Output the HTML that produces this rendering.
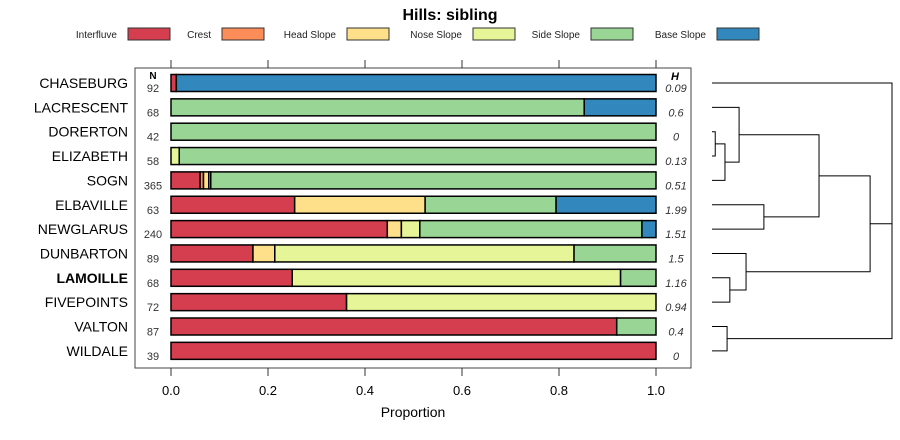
<!DOCTYPE html>
<html><head><meta charset="utf-8"><style>
html,body{margin:0;padding:0;background:#fff;}
svg{display:block;font-family:"Liberation Sans",sans-serif;}
</style></head><body>
<svg id="chart" width="900" height="440" viewBox="0 0 900 440">
<text x="450" y="20" text-anchor="middle" font-size="16" font-weight="bold">Hills: sibling</text>
<g id="legend"></g>
<rect x="135" y="68" width="556" height="300" fill="none" stroke="#444" stroke-width="1"/>
<g id="axis"></g>
<g id="bars"></g>
<g id="dendro" stroke="#000" stroke-width="1" fill="none"></g>
<text x="413" y="417" text-anchor="middle" font-size="14">Proportion</text>
</svg>
<script>
const categories = ["Interfluve","Crest","Head Slope","Nose Slope","Side Slope","Base Slope"];
const colors = ["#D53E4F","#FC8D59","#FEE08B","#E6F598","#99D594","#3288BD"];
const series = ["CHASEBURG","LACRESCENT","DORERTON","ELIZABETH","SOGN","ELBAVILLE","NEWGLARUS","DUNBARTON","LAMOILLE","FIVEPOINTS","VALTON","WILDALE"];
const nValues = [92,68,42,58,365,63,240,89,68,72,87,39];
const hValues = ["0.09","0.6","0","0.13","0.51","1.99","1.51","1.5","1.16","0.94","0.4","0"];
const interfluve = [0.011,0,0,0,0.06,0.255,0.446,0.169,0.25,0.362,0.919,1];
const crest      = [0,0,0,0,0.007,0,0,0,0,0,0,0];
const headSlope  = [0,0,0,0,0.011,0.269,0.029,0.045,0,0,0,0];
const noseSlope  = [0,0,0,0.017,0.004,0,0.038,0.617,0.677,0.638,0,0];
const sideSlope  = [0,0.852,1,0.983,0.918,0.27,0.458,0.169,0.073,0,0.081,0];
const baseSlope  = [0.989,0.148,0,0,0,0.206,0.029,0,0,0,0,0];
const xTicks = [0,0.2,0.4,0.6,0.8,1.0];
const xTickLabels = ["0.0","0.2","0.4","0.6","0.8","1.0"];
// dendrogram merges: [leftNode, rightNode, height]; leaves 0..11, merges numbered from 12
const merges = [[2,3,0.2],[12,4,0.8],[1,13,1.67],[5,6,3.2],[14,15,6.6],[8,9,1.1],[7,17,2.1],[16,18,9.75],[10,11,0.93],[19,20,11.1],[0,21,11.1]];
const NS="http://www.w3.org/2000/svg";
function mk(t,a,p){const e=document.createElementNS(NS,t);for(const k in a)e.setAttribute(k,a[k]);p.appendChild(e);return e;}
const x0=171,x1=656;
const xs=v=>x0+(x1-x0)*v;
const ys=i=>83+i*24.35;
const lg=document.getElementById('legend');
const lx=[117,211,336,462,580,706];
categories.forEach((c,i)=>{
  const t=mk('text',{x:lx[i],y:38,'text-anchor':'end','font-size':10,fill:'#222'},lg);t.textContent=c;
  
  
  const r=mk('rect',{x:lx[i]+11,y:28,width:42,height:12,fill:colors[i],stroke:'#333','stroke-width':1},lg);
  
  
});
const ax=document.getElementById('axis');
xTicks.forEach((v,i)=>{
  mk('line',{x1:xs(v),x2:xs(v),y1:60,y2:68,stroke:'#333'},ax);
  mk('line',{x1:xs(v),x2:xs(v),y1:368,y2:376,stroke:'#333'},ax);
  const t=mk('text',{x:xs(v),y:395,'text-anchor':'middle','font-size':13},ax);t.textContent=xTickLabels[i];
  
  
});
const bg=document.getElementById('bars');
mk('text',{x:153,y:79,'text-anchor':'middle','font-size':10,'font-weight':'bold'},bg).textContent='N';
mk('text',{x:675,y:80,'text-anchor':'middle','font-size':11,'font-weight':'bold','font-style':'italic'},bg).textContent='H';
const all=[interfluve,crest,headSlope,noseSlope,sideSlope,baseSlope];
series.forEach((s,i)=>{
  const y=ys(i);
  const lab=mk('text',{x:128,y:y+5,'text-anchor':'end','font-size':14,'font-weight':s==='LAMOILLE'?'bold':'normal'},bg);lab.textContent=s;
  
  
  const n=mk('text',{x:153,y:y+9,'text-anchor':'middle','font-size':11,fill:'#333'},bg);n.textContent=nValues[i];
  
  
  const h=mk('text',{x:676,y:y+9,'text-anchor':'middle','font-size':11,'font-style':'italic',fill:'#333'},bg);h.textContent=hValues[i];
  
  
  let cum=0;
  all.forEach((arr,k)=>{
    const v=arr[i];if(v<=0)return;
    const r=mk('rect',{x:xs(cum),y:y-8.5,width:xs(cum+v)-xs(cum),height:17,fill:colors[k],stroke:'#000','stroke-width':1.5},bg);
    
    
    cum+=v;
  });
});
const dg=document.getElementById('dendro');
const dx0=712, dscale=(892-712)/11.1;
const nodes=series.map((s,i)=>({y:ys(i),h:0}));
merges.forEach(([a,b,h])=>{
  const A=nodes[a],B=nodes[b],xh=dx0+h*dscale;
  const p=mk('path',{d:`M${dx0+A.h*dscale},${A.y}H${xh}V${B.y}H${dx0+B.h*dscale}`},dg);
  
  
  nodes.push({y:(A.y+B.y)/2,h:h});
});
</script>
</body></html>
